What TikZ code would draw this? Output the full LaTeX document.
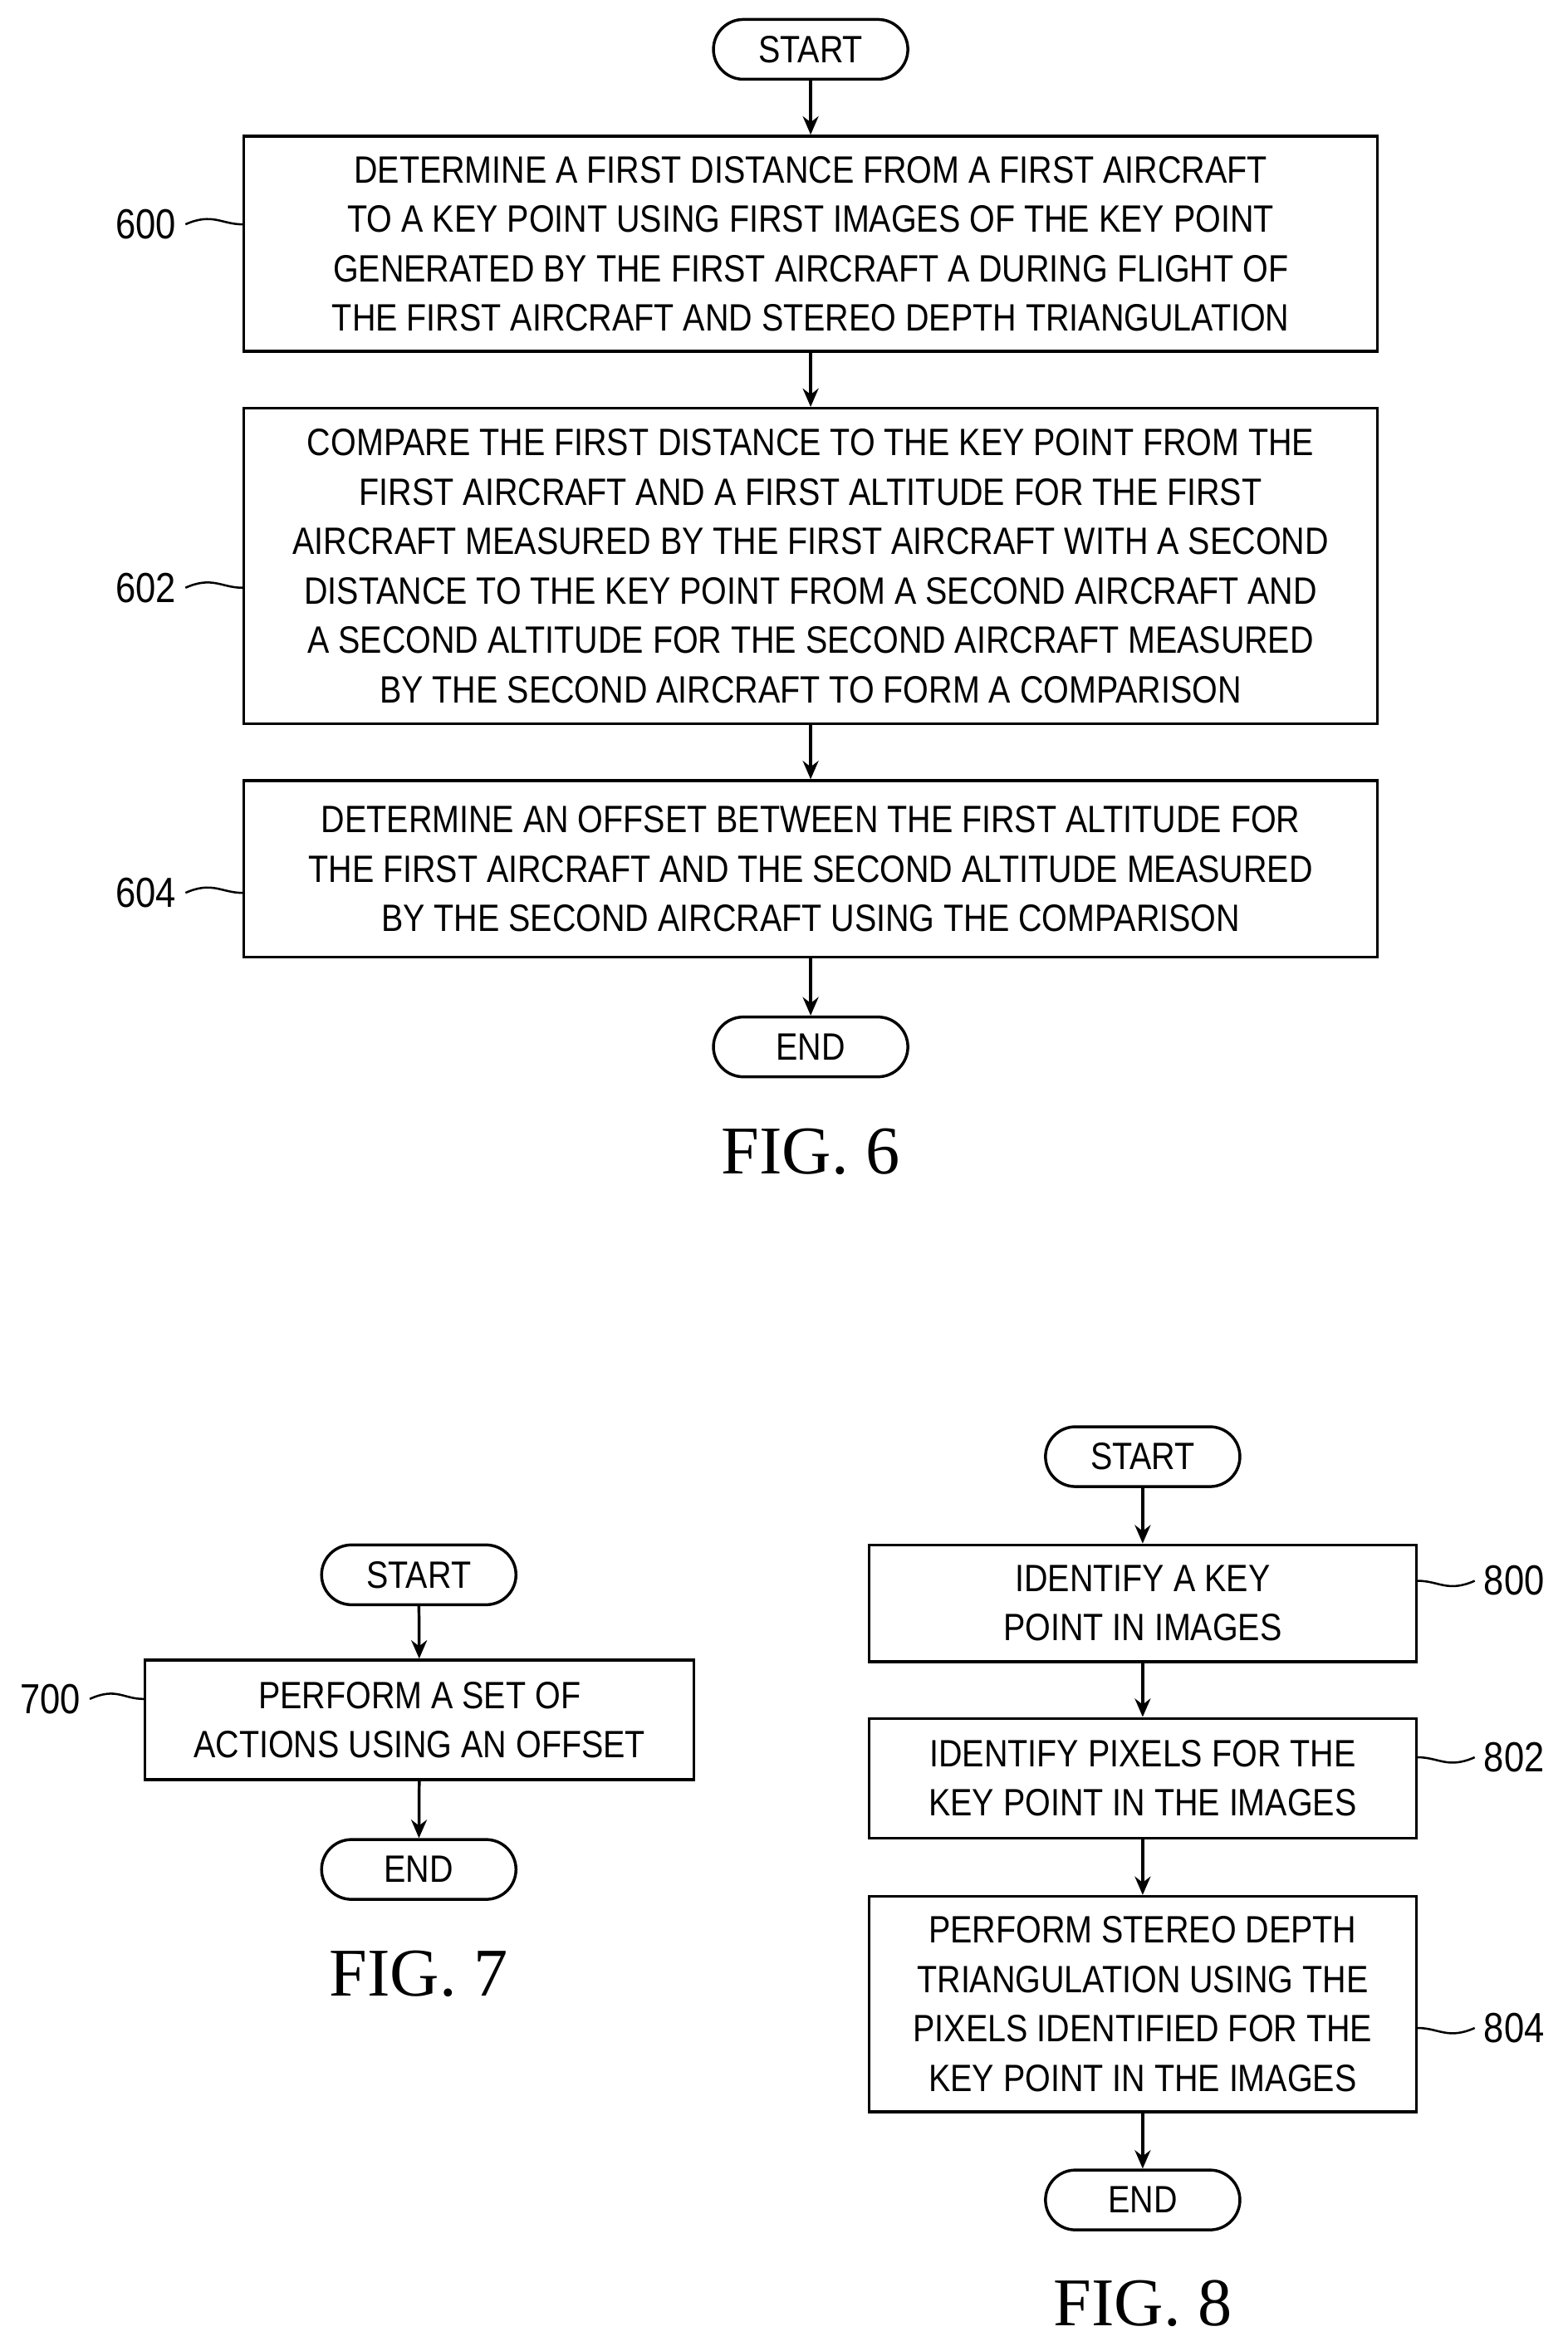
\documentclass[tikz,border=0pt]{standalone}
\usepackage{fontspec}
\setmainfont{Liberation Serif}
\newfontfamily\boxfont[FakeStretch=0.86]{Liberation Sans}
\usetikzlibrary{arrows.meta}

\tikzset{
  proc/.style={draw, line width=1.1pt, align=center, inner sep=0pt,
    font=\boxfont\fontsize{14.5}{18.8}\selectfont},
  term/.style={draw, line width=1.1pt, rounded corners=0.4cm, minimum width=2.6cm,
    minimum height=0.8cm, inner sep=0pt, font=\boxfont\fontsize{14.5}{18.8}\selectfont},
  ref/.style={font=\boxfont\fontsize{16}{18}\selectfont},
  figlbl/.style={font=\fontsize{26}{30}\selectfont},
  flow/.style={line width=1.1pt, -{Stealth[length=7pt,width=6pt]}},
  lead/.style={line width=0.8pt}
}

\begin{document}
\begin{tikzpicture}[x=0.02cm, y=-0.02cm]
    \useasboundingbox (0,0) rectangle (1048,1572);

    % FIG. 6
    \node[term] (s6) at (542,33) {START};
    \node[proc, minimum width=15.16cm, minimum height=2.88cm] (b600) at (542,163)
      {DETERMINE A FIRST DISTANCE FROM A FIRST AIRCRAFT\\
       TO A KEY POINT USING FIRST IMAGES OF THE KEY POINT\\
       GENERATED BY THE FIRST AIRCRAFT A DURING FLIGHT OF\\
       THE FIRST AIRCRAFT AND STEREO DEPTH TRIANGULATION};
    \node[proc, minimum width=15.16cm, minimum height=4.22cm] (b602) at (542,378.5)
      {COMPARE THE FIRST DISTANCE TO THE KEY POINT FROM THE\\
       FIRST AIRCRAFT AND A FIRST ALTITUDE FOR THE FIRST\\
       AIRCRAFT MEASURED BY THE FIRST AIRCRAFT WITH A SECOND\\
       DISTANCE TO THE KEY POINT FROM A SECOND AIRCRAFT AND\\
       A SECOND ALTITUDE FOR THE SECOND AIRCRAFT MEASURED\\
       BY THE SECOND AIRCRAFT TO FORM A COMPARISON};
    \node[proc, minimum width=15.16cm, minimum height=2.36cm] (b604) at (542,581)
      {DETERMINE AN OFFSET BETWEEN THE FIRST ALTITUDE FOR\\
       THE FIRST AIRCRAFT AND THE SECOND ALTITUDE MEASURED\\
       BY THE SECOND AIRCRAFT USING THE COMPARISON};
    \node[term] (e6) at (542,700) {END};
    \node[figlbl] (f6) at (542,770) {FIG. 6};

    \draw[flow] (s6) -- (b600);
    \draw[flow] (b600) -- (b602);
    \draw[flow] (b602) -- (b604);
    \draw[flow] (b604) -- (e6);

    \node[ref, anchor=east] (r600) at (124,150) {600};
    \node[ref, anchor=east] (r602) at (124,393) {602};
    \node[ref, anchor=east] (r604) at (124,597) {604};
    \draw[lead] (r600.east) .. controls +(18,-8) and +(-14,0) .. (b600.west |- r600.east);
    \draw[lead] (r602.east) .. controls +(18,-8) and +(-14,0) .. (b602.west |- r602.east);
    \draw[lead] (r604.east) .. controls +(18,-8) and +(-14,0) .. (b604.west |- r604.east);

    % FIG. 7
    \node[term] (s7) at (280,1053) {START};
    \node[proc, minimum width=7.34cm, minimum height=1.6cm] (b700) at (280.5,1150)
      {PERFORM A SET OF\\ ACTIONS USING AN OFFSET};
    \node[term] (e7) at (280,1250) {END};
    \node[figlbl] (f7) at (280,1320) {FIG. 7};
    \draw[flow] (s7) -- (b700);
    \draw[flow] (b700) -- (e7);
    \node[ref, anchor=east] (r700) at (60,1136) {700};
    \draw[lead] (r700.east) .. controls +(18,-8) and +(-14,0) .. (b700.west |- r700.east);

    % FIG. 8
    \node[term] (s8) at (764,974) {START};
    \node[proc, minimum width=7.32cm, minimum height=1.56cm] (b800) at (764,1072)
      {IDENTIFY A KEY\\ POINT IN IMAGES};
    \node[proc, minimum width=7.32cm, minimum height=1.6cm] (b802) at (764,1189)
      {IDENTIFY PIXELS FOR THE\\ KEY POINT IN THE IMAGES};
    \node[proc, minimum width=7.32cm, minimum height=2.88cm] (b804) at (764,1340)
      {PERFORM STEREO DEPTH\\ TRIANGULATION USING THE\\
       PIXELS IDENTIFIED FOR THE\\ KEY POINT IN THE IMAGES};
    \node[term] (e8) at (764,1471) {END};
    \node[figlbl] (f8) at (764,1540) {FIG. 8};
    \draw[flow] (s8) -- (b800);
    \draw[flow] (b800) -- (b802);
    \draw[flow] (b802) -- (b804);
    \draw[flow] (b804) -- (e8);

    \node[ref, anchor=west] (r800) at (986,1057) {800};
    \node[ref, anchor=west] (r802) at (986,1175) {802};
    \node[ref, anchor=west] (r804) at (986,1356) {804};
    \draw[lead] (b800.east |- r800.west) .. controls +(14,0) and +(-18,8) .. (r800.west);
    \draw[lead] (b802.east |- r802.west) .. controls +(14,0) and +(-18,8) .. (r802.west);
    \draw[lead] (b804.east |- r804.west) .. controls +(14,0) and +(-18,8) .. (r804.west);
\end{tikzpicture}
\end{document}
